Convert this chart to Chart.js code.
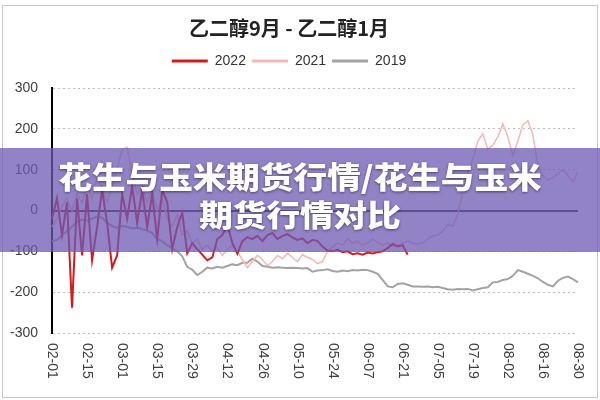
<!DOCTYPE html>
<html>
<head>
<meta charset="utf-8">
<script src="https://cdn.jsdelivr.net/npm/chart.js"></script>
<style>
  html, body { margin: 0; padding: 0; background: #fff; }
  #wrap { width: 600px; height: 400px; position: relative; }
</style>
</head>
<body>
<div id="wrap"><canvas id="spread"></canvas></div>
<script>
// x axis labels, one every 14 days
const tickLabels = ['02-01', '02-15', '03-01', '03-15', '03-29', '04-12', '04-26', '05-10',
    '05-24', '06-07', '06-21', '07-05', '07-19', '08-02', '08-16', '08-30'];

// category axis: every second day from 02-01 to 08-30
const days = [];
for (let d = new Date(2022, 1, 1); d <= new Date(2022, 7, 30); d.setDate(d.getDate() + 2)) {
    days.push(String(d.getMonth() + 1).padStart(2, '0') + '-' + String(d.getDate()).padStart(2, '0'));
}

// spread values
const s2022 = [
    -20, 30, -60, 20, -238, 30, -110, 40, -122, -40,
    50, -30, -140, -110, 40, -20, 60, -30, 50, -40,
    40, -70, 50, 20, -95, -40, -5, -105, -80, -95,
    -108, -122, -115, -70, -60, -35, -80, -106, -75, -65,
    -70, -62, -75, -60, -55, -70, -62, -58, -66, -72,
    -68, -80, -72, -75, -88, -98, -100, -96, -102, -100,
    -107, -105, -108, -103, -105, -102, -100, -92, -82, -88,
    -85, -108
];
const s2021 = [
    -40, -20, 10, 30, 0, 40, 20, 60, 30, 80,
    50, 20, 60, 100, 150, 155, 90, 40, 60, 20,
    50, 0, 30, -20, -40, -10, -60, -50, -80, -70,
    -95, -85, -100, -90, -110, -95, -85, -100, -120, -140,
    -125, -110, -120, -135, -125, -110, -118, -105, -115, -125,
    -108, -115, -120, -130, -125, -100, -90, -80, -85, -70,
    -80, -75, -85, -80, -70, -78, -85, -80, -88, -85,
    -80, -75, -80, -82, -80, -70, -62, -60, -50, -35,
    -38, -10, 45, 90, 125, 170, 188, 150, 160, 180,
    212, 180, 135, 170, 210, 220, 185, 110, 85, 75,
    80, 90, 100, 85, 70, 95
];
const s2019 = [
    -75, -72, -60, -50, -40, -28, -22, -25, -20, -15,
    -18, -30, -38, -42, -38, -40, -44, -42, -46, -48,
    -55, -70, -75, -85, -92, -100, -112, -138, -145, -158,
    -150, -140, -142, -138, -140, -136, -132, -134, -128, -128,
    -118, -125, -136, -138, -140, -139, -140, -141, -140, -141,
    -142, -141, -150, -147, -146, -144, -148, -150, -147, -149,
    -146, -147, -145, -146, -150, -155, -170, -186, -188, -180,
    -178, -182, -186, -186, -187, -186, -188, -187, -190, -193,
    -194, -192, -193, -192, -196, -193, -190, -188, -176, -175,
    -170, -168, -160, -146, -150, -155, -160, -166, -175, -182,
    -186, -172, -165, -162, -168, -176
];

const chartTitle = '乙二醇9月 - 乙二醇1月';
const bannerLines = ['花生与玉米期货行情/花生与玉米', '期货行情对比'];

// draws rotated x labels, outer frame and the banner on top
const decor = {
    id: 'decor',
    afterDraw(chart) {
        const { ctx, chartArea, scales: { x } } = chart;
        ctx.save();
        ctx.fillStyle = '#404040';
        ctx.font = '14px "Liberation Sans", Arial, sans-serif';
        ctx.textAlign = 'left';
        ctx.textBaseline = 'middle';
        tickLabels.forEach(t => {
            const px = x.getPixelForValue(days.indexOf(t));
            ctx.save();
            ctx.translate(px, chartArea.bottom + 10);
            ctx.rotate(Math.PI / 2);
            ctx.fillText(t, 0, 0);
            ctx.restore();
        });

        ctx.strokeStyle = '#c8c8c8';
        ctx.lineWidth = 1;
        ctx.strokeRect(2.5, 5.5, 595, 392);

        ctx.fillStyle = 'rgba(110, 90, 180, 0.75)';
        ctx.fillRect(0, 148, 600, 104);

        ctx.fillStyle = '#fff';
        ctx.font = '900 30px "Noto Sans CJK SC", sans-serif';
        ctx.textAlign = 'center';
        ctx.shadowColor = 'rgba(0, 0, 0, 0.5)';
        ctx.shadowBlur = 3;
        ctx.shadowOffsetY = 1;
        bannerLines.forEach((s, i) => {
            ctx.save();
            ctx.translate(300, 177 + i * 38);
            ctx.scale(1.12, 1);
            ctx.fillText(s, 0, 0);
            ctx.restore();
        });
        ctx.restore();
    }
};

const ctx = document.getElementById('spread').getContext('2d');
const chart = new Chart(ctx, {
    type: 'line',
    data: {
        labels: days,
        datasets: [
            { label: '2022', data: s2022, borderColor: '#d7191c', backgroundColor: '#d7191c', borderWidth: 2 },
            { label: '2021', data: s2021, borderColor: '#f4b8b8', backgroundColor: '#f4b8b8', borderWidth: 1.5 },
            { label: '2019', data: s2019, borderColor: '#a3a3a3', backgroundColor: '#a3a3a3', borderWidth: 2 }
        ]
    },
    options: {
        responsive: true,
        maintainAspectRatio: false,
        animation: false,
        elements: { point: { radius: 0 }, line: { tension: 0 } },
        layout: { padding: { left: 0, right: 22, top: 0, bottom: 67 } },
        scales: {
            x: {
                ticks: { display: false },
                grid: { display: false, drawTicks: false },
                border: { display: false }
            },
            y: {
                min: -300,
                max: 300,
                afterFit: scale => { scale.width = 52; },
                ticks: {
                    stepSize: 100,
                    padding: 14,
                    color: '#404040',
                    font: { family: '"Liberation Sans", Arial, sans-serif', size: 14 }
                },
                grid: {
                    drawTicks: false,
                    color: c => (c.tick && c.tick.value === 0 ? '#333' : '#bdbdbd'),
                    lineWidth: c => (c.tick && c.tick.value === 0 ? 2 : 1)
                },
                border: {
                    color: '#000',
                    width: 2,
                    dash: c => (c.tick && c.tick.value === 0 ? [] : [2, 3])
                }
            }
        },
        plugins: {
            title: {
                display: true,
                text: chartTitle,
                color: '#222',
                font: { family: '"Noto Sans CJK SC", sans-serif', size: 20, weight: 'bold' },
                padding: { top: 16, bottom: 8 }
            },
            legend: {
                labels: {
                    color: '#333',
                    font: { family: '"Liberation Sans", Arial, sans-serif', size: 14 },
                    usePointStyle: true,
                    pointStyle: 'line',
                    pointStyleWidth: 36,
                    padding: 6,
                    generateLabels: c => Chart.defaults.plugins.legend.labels.generateLabels(c)
                        .map(l => ({ ...l, lineWidth: 3 }))
                }
            },
            tooltip: { enabled: false }
        }
    },
    plugins: [decor]
});

// leave a gap between legend and plot area
const legendFit = chart.legend.fit;
chart.legend.fit = function () {
    legendFit.call(this);
    this.height += 10;
};
chart.update();
</script>
</body>
</html>
